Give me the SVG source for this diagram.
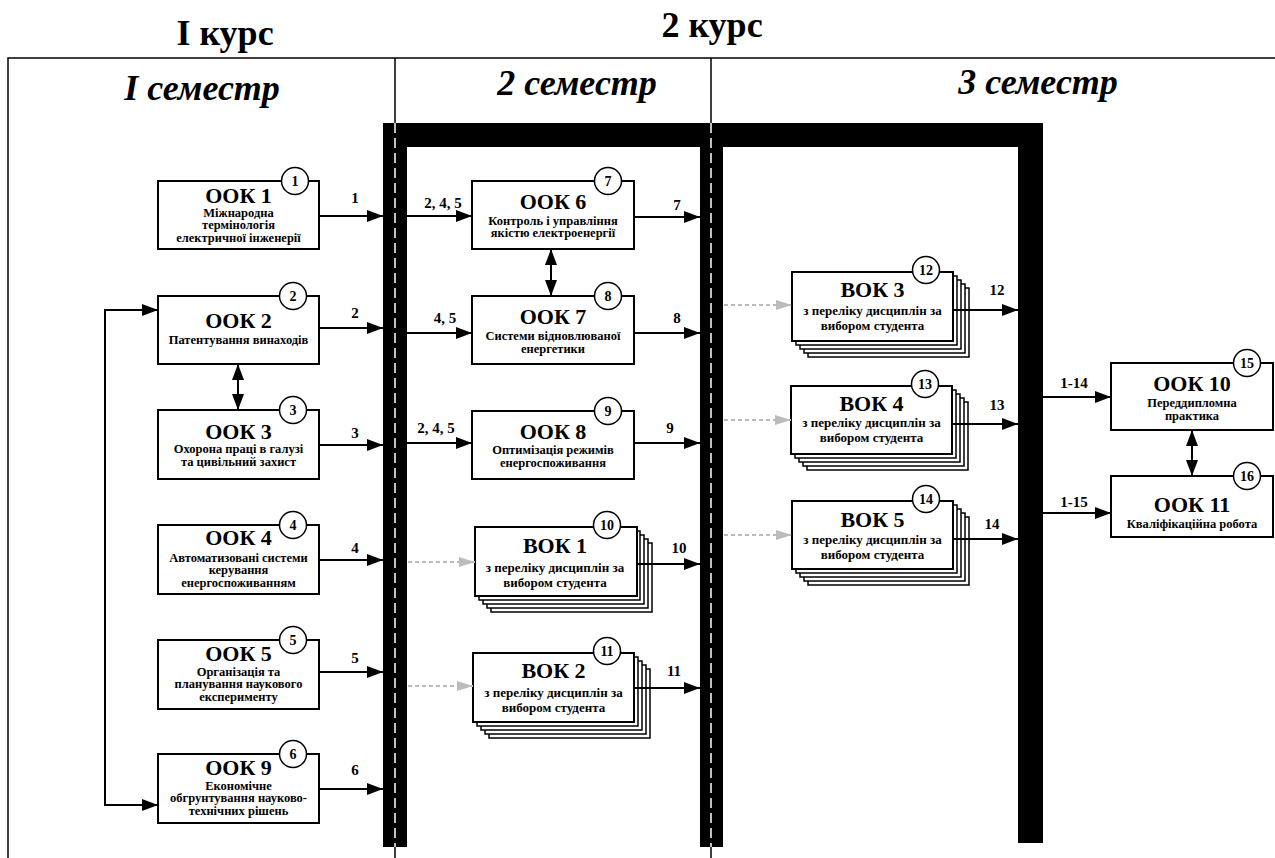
<svg xmlns="http://www.w3.org/2000/svg" width="1275" height="858" viewBox="0 0 1275 858">
<style>
.box{fill:#fff;stroke:#000;stroke-width:2}
.cp{fill:#fff;stroke:#000;stroke-width:1.5}
.num{fill:#fff;stroke:#000;stroke-width:1.5}
.t{font-family:Liberation Serif,Tinos,Noto Serif,DejaVu Serif,Times New Roman,Times,serif;font-weight:700;text-anchor:middle;fill:#000}
.h{font-size:36px}
.hi{font-size:36px;font-style:italic}
.ti{font-size:22px}
.s{font-size:12.5px}
.vs{font-size:13px}
.n{font-size:14px}
.l{font-size:15px}
.c{stroke:#000;stroke-width:2;fill:none;marker-end:url(#ah)}
.d{stroke:#000;stroke-width:2;fill:none;marker-end:url(#ah);marker-start:url(#ah)}
.g{stroke:#bbb;stroke-width:2;fill:none;stroke-dasharray:4 3;marker-end:url(#ahg)}
.frame{stroke:#000;stroke-width:1.5;fill:none}
.wd{stroke:#fff;stroke-width:1.5;stroke-dasharray:10 5;fill:none}
</style>
<defs>
<marker id="ah" markerUnits="userSpaceOnUse" markerWidth="16" markerHeight="12" refX="16" refY="6" orient="auto-start-reverse"><path d="M0,0 L16,6 L0,12 z" fill="#000"/></marker>
<marker id="ahg" markerUnits="userSpaceOnUse" markerWidth="16" markerHeight="12" refX="16" refY="6" orient="auto"><path d="M0,1 L16,6 L0,11 z" fill="#bbb"/></marker>
</defs>
<rect x="0" y="0" width="1275" height="858" fill="#fff"/>
<g id="headers">
<text class="t h" x="225" y="45" font-family="Liberation Serif, serif">I курс</text>
<text class="t h" x="712" y="37">2 курс</text>
<text class="t hi" x="202" y="100">I семестр</text>
<text class="t hi" x="577" y="95">2 семестр</text>
<text class="t hi" x="1038" y="94">3 семестр</text>
</g>
<g id="frame">
<path class="frame" d="M8,858 V58 H1275 M395,58 V858 M711,58 V858"/>
</g>
<g id="bars">
<rect x="383" y="123" width="660" height="24" fill="#000"/>
<rect x="383" y="123" width="24" height="724" fill="#000"/>
<rect x="700" y="123" width="23" height="724" fill="#000"/>
<rect x="1018" y="123" width="25" height="720" fill="#000"/>
<path class="wd" d="M395,123 V847 M711,123 V847"/>
</g>
<g id="ook1"><rect class="box" x="158" y="181" width="161" height="68"/><circle class="num" cx="295" cy="181" r="13.5"/><text class="t n" x="295" y="186">1</text>
<text class="t ti" x="238.5" y="203">ООК 1</text><text class="t s" x="238.5" y="217">Міжнародна</text><text class="t s" x="238.5" y="229">термінологія</text><text class="t s" x="238.5" y="242">електричної інженерії</text></g>
<g id="ook2"><rect class="box" x="158" y="296" width="161" height="68"/><circle class="num" cx="293" cy="296" r="13.5"/><text class="t n" x="293" y="301">2</text>
<text class="t ti" x="238.5" y="328">ООК 2</text><text class="t s" x="238.5" y="344">Патентування винаходів</text></g>
<g id="ook3"><rect class="box" x="158" y="410" width="161" height="69"/><circle class="num" cx="293" cy="410" r="13.5"/><text class="t n" x="293" y="415">3</text>
<text class="t ti" x="238.5" y="439">ООК 3</text><text class="t s" x="238.5" y="453">Охорона праці в галузі</text><text class="t s" x="238.5" y="466">та цивільний захист</text></g>
<g id="ook4"><rect class="box" x="158" y="525" width="161" height="69"/><circle class="num" cx="293" cy="525" r="13.5"/><text class="t n" x="293" y="530">4</text>
<text class="t ti" x="238.5" y="545">ООК 4</text><text class="t s" x="238.5" y="562">Автоматизовані системи</text><text class="t s" x="238.5" y="574">керування</text><text class="t s" x="238.5" y="587">енергоспоживанням</text></g>
<g id="ook5"><rect class="box" x="158" y="640" width="161" height="69"/><circle class="num" cx="293" cy="640" r="13.5"/><text class="t n" x="293" y="645">5</text>
<text class="t ti" x="238.5" y="661">ООК 5</text><text class="t s" x="238.5" y="676">Організація та</text><text class="t s" x="238.5" y="688">планування наукового</text><text class="t s" x="238.5" y="701">експерименту</text></g>
<g id="ook9"><rect class="box" x="158" y="754" width="161" height="69"/><circle class="num" cx="293" cy="754" r="13.5"/><text class="t n" x="293" y="759">6</text>
<text class="t ti" x="238.5" y="775">ООК 9</text><text class="t s" x="238.5" y="790">Економічне</text><text class="t s" x="238.5" y="802">обгрунтування науково-</text><text class="t s" x="238.5" y="815">технічних рішень</text></g>
<g id="ook6"><rect class="box" x="472" y="181" width="162" height="68"/><circle class="num" cx="608" cy="181" r="13.5"/><text class="t n" x="608" y="186">7</text>
<text class="t ti" x="553" y="209">ООК 6</text><text class="t s" x="553" y="225">Контроль і управління</text><text class="t s" x="553" y="237">якістю електроенергії</text></g>
<g id="ook7"><rect class="box" x="472" y="296" width="162" height="68"/><circle class="num" cx="608" cy="296" r="13.5"/><text class="t n" x="608" y="301">8</text>
<text class="t ti" x="553" y="324">ООК 7</text><text class="t s" x="553" y="340">Системи відновлюваної</text><text class="t s" x="553" y="353">енергетики</text></g>
<g id="ook8"><rect class="box" x="472" y="411" width="162" height="68"/><circle class="num" cx="608" cy="411" r="13.5"/><text class="t n" x="608" y="416">9</text>
<text class="t ti" x="553" y="439">ООК 8</text><text class="t s" x="553" y="454">Оптимізація режимів</text><text class="t s" x="553" y="467">енергоспоживання</text></g>
<g id="vok1"><rect class="cp" x="491" y="543" width="161" height="69"/><rect class="cp" x="487" y="539" width="161" height="69"/><rect class="cp" x="483" y="535" width="161" height="69"/><rect class="cp" x="479" y="531" width="161" height="69"/>
<rect class="box" x="475" y="527" width="162" height="69"/><circle class="num" cx="607" cy="525" r="13.5"/><text class="t n" x="607" y="530">10</text>
<text class="t ti" x="555" y="553">ВОК 1</text><text class="t vs" x="555" y="572">з переліку дисциплін за</text><text class="t vs" x="555" y="587">вибором студента</text></g>
<g id="vok2"><rect class="cp" x="489" y="669" width="161" height="69"/><rect class="cp" x="485" y="665" width="161" height="69"/><rect class="cp" x="481" y="661" width="161" height="69"/><rect class="cp" x="477" y="657" width="161" height="69"/>
<rect class="box" x="473" y="653" width="161" height="69"/><circle class="num" cx="607" cy="651" r="13.5"/><text class="t n" x="607" y="656">11</text>
<text class="t ti" x="553.5" y="678">ВОК 2</text><text class="t vs" x="553.5" y="697">з переліку дисциплін за</text><text class="t vs" x="553.5" y="712">вибором студента</text></g>
<g id="vok3"><rect class="cp" x="808" y="288" width="161" height="69"/><rect class="cp" x="804" y="284" width="161" height="69"/><rect class="cp" x="800" y="280" width="161" height="69"/><rect class="cp" x="796" y="276" width="161" height="69"/>
<rect class="box" x="792" y="272" width="161" height="69"/><circle class="num" cx="926" cy="270" r="13.5"/><text class="t n" x="926" y="275">12</text>
<text class="t ti" x="872.5" y="297">ВОК 3</text><text class="t vs" x="872.5" y="315">з переліку дисциплін за</text><text class="t vs" x="872.5" y="330">вибором студента</text></g>
<g id="vok4"><rect class="cp" x="807" y="402" width="161" height="68"/><rect class="cp" x="803" y="398" width="161" height="68"/><rect class="cp" x="799" y="394" width="161" height="68"/><rect class="cp" x="795" y="390" width="161" height="68"/>
<rect class="box" x="791" y="386" width="161" height="68"/><circle class="num" cx="925" cy="384" r="13.5"/><text class="t n" x="925" y="389">13</text>
<text class="t ti" x="871.5" y="411">ВОК 4</text><text class="t vs" x="871.5" y="427">з переліку дисциплін за</text><text class="t vs" x="871.5" y="442">вибором студента</text></g>
<g id="vok5"><rect class="cp" x="808" y="517" width="161" height="68"/><rect class="cp" x="804" y="513" width="161" height="68"/><rect class="cp" x="800" y="509" width="161" height="68"/><rect class="cp" x="796" y="505" width="161" height="68"/>
<rect class="box" x="792" y="501" width="161" height="68"/><circle class="num" cx="926" cy="499" r="13.5"/><text class="t n" x="926" y="504">14</text>
<text class="t ti" x="872.5" y="527">ВОК 5</text><text class="t vs" x="872.5" y="544">з переліку дисциплін за</text><text class="t vs" x="872.5" y="559">вибором студента</text></g>
<g id="ook10"><rect class="box" x="1111" y="363" width="162" height="67"/><circle class="num" cx="1247" cy="363" r="13.5"/><text class="t n" x="1247" y="368">15</text>
<text class="t ti" x="1192" y="391">ООК 10</text><text class="t s" x="1192" y="407">Переддипломна</text><text class="t s" x="1192" y="420">практика</text></g>
<g id="ook11"><rect class="box" x="1111" y="476" width="162" height="61"/><circle class="num" cx="1247" cy="476" r="13.5"/><text class="t n" x="1247" y="481">16</text>
<text class="t ti" x="1192" y="512">ООК 11</text><text class="t s" x="1192" y="528">Кваліфікаційна робота</text></g>
<g id="connectors">
<path class="c" d="M319,216 H383"/><path class="c" d="M319,328 H383"/><path class="c" d="M319,445 H383"/><path class="c" d="M319,560 H383"/><path class="c" d="M319,672 H383"/><path class="c" d="M319,789 H383"/>
<path class="d" d="M158,310 H105 V805 H158"/>
<path class="d" d="M238,364 V410"/><path class="d" d="M551,249 V296"/><path class="d" d="M1192,430 V476"/>
<path class="c" d="M407,216 H472"/><path class="c" d="M407,333 H472"/><path class="c" d="M407,443 H472"/>
<path class="g" d="M408,562 H475"/><path class="g" d="M408,686 H473"/>
<path class="c" d="M634,217 H700"/><path class="c" d="M634,333 H700"/><path class="c" d="M634,443 H700"/><path class="c" d="M637,564 H700"/><path class="c" d="M634,688 H700"/>
<path class="g" d="M724,305 H792"/><path class="g" d="M724,420 H791"/><path class="g" d="M724,535 H792"/>
<path class="c" d="M953,310 H1018"/><path class="c" d="M952,424 H1018"/><path class="c" d="M953,539 H1018"/>
<path class="c" d="M1043,397 H1111"/><path class="c" d="M1043,513 H1111"/>
<text class="t l" x="355" y="203">1</text><text class="t l" x="355" y="318">2</text><text class="t l" x="355" y="438">3</text><text class="t l" x="355" y="553">4</text><text class="t l" x="355" y="663">5</text><text class="t l" x="355" y="775">6</text>
<text class="t l" x="443" y="208">2, 4, 5</text><text class="t l" x="445" y="323">4, 5</text><text class="t l" x="436" y="433">2, 4, 5</text>
<text class="t l" x="677" y="210">7</text><text class="t l" x="677" y="323">8</text><text class="t l" x="670" y="433">9</text><text class="t l" x="679" y="553">10</text><text class="t l" x="674" y="676">11</text>
<text class="t l" x="997" y="295">12</text><text class="t l" x="997" y="410">13</text><text class="t l" x="992" y="529">14</text>
<text class="t l" x="1074" y="388">1-14</text><text class="t l" x="1074" y="507">1-15</text>
</g>
</svg>
